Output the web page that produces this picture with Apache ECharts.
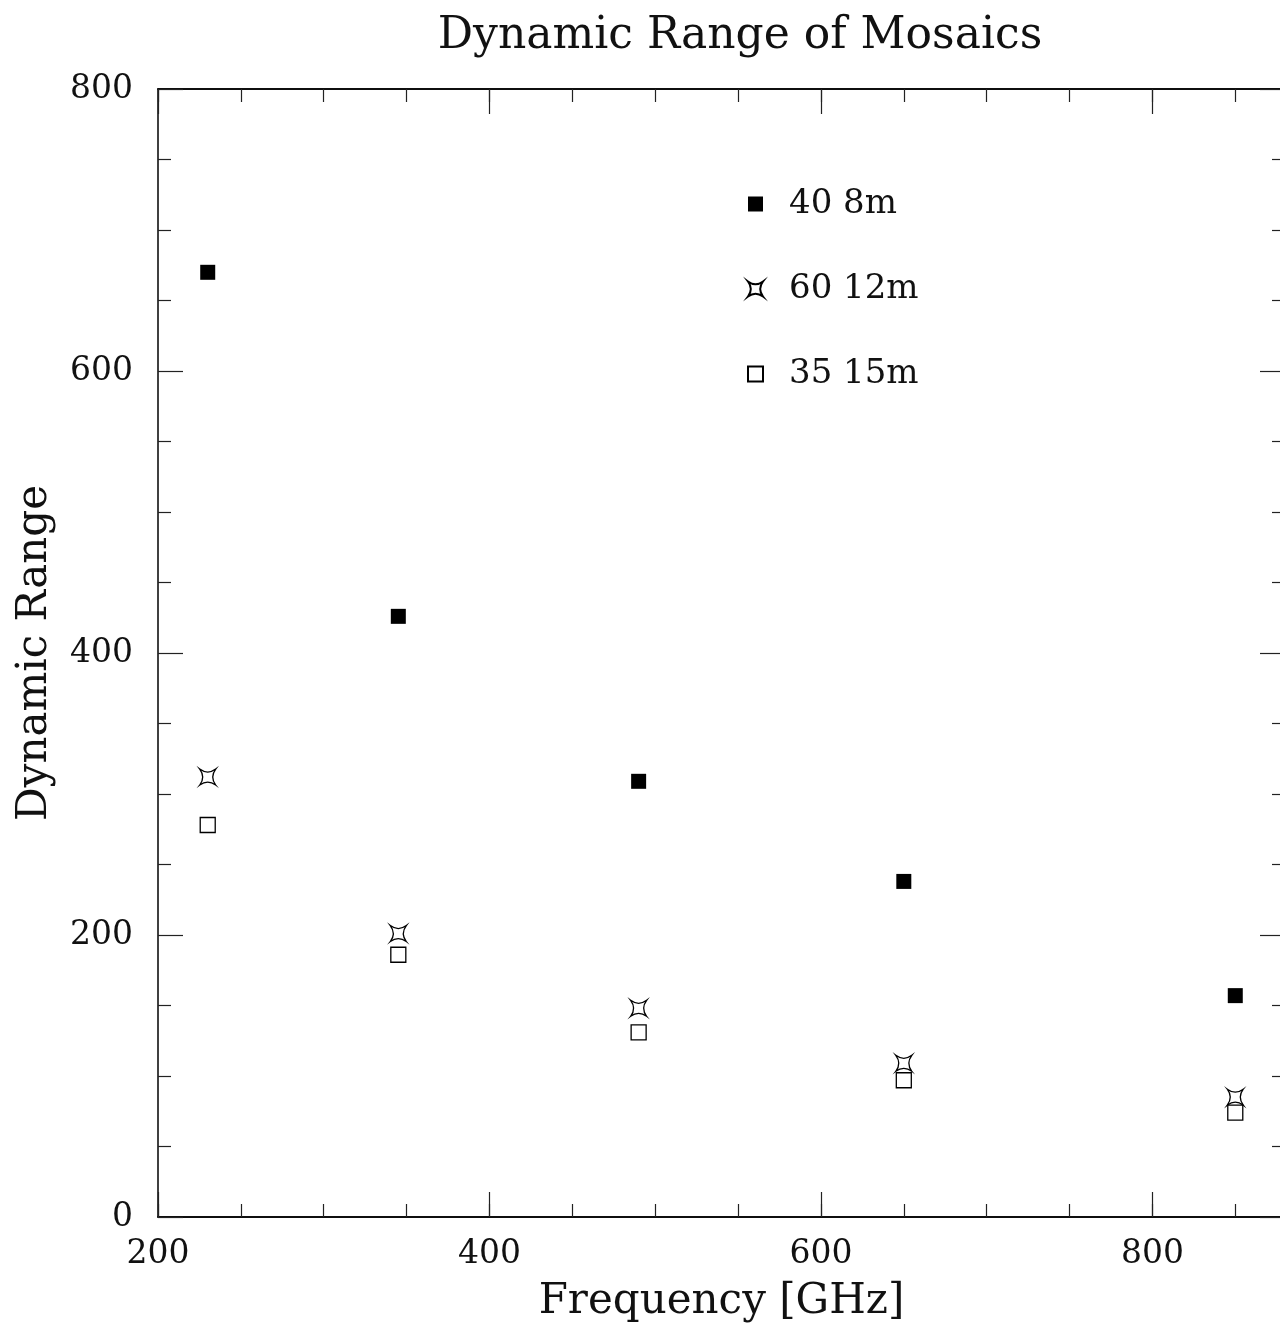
<!DOCTYPE html>
<html><head><meta charset="utf-8">
<script src="https://cdn.jsdelivr.net/npm/echarts@6/dist/echarts.min.js"></script>
<style>html,body{margin:0;padding:0;background:#fff}#c{width:1280px;height:1326px}</style>
</head><body><div id="c"></div>
<script>
// ---- data ----
const frequencies = [230, 345, 490, 650, 850];
const dr40x8m  = [670, 426, 309, 238, 157];
const dr60x12m = [312, 201, 148, 109, 85];
const dr35x15m = [278, 186, 131, 97, 74];
const seriesNames = ['40 8m', '60 12m', '35 15m'];
const titleText = 'Dynamic Range of Mosaics';
const xName = 'Frequency [GHz]';
const yName = 'Dynamic Range';

const FONT = 'DejaVu Serif';
const STAR = 'path://M-1,-1 Q0,-0.25 1,-1 Q0.25,0 1,1 Q0,0.25 -1,1 Q-0.25,0 -1,-1 Z';
const pairs = ys => frequencies.map((f, i) => [f, ys[i]]);

const axLine = {show: true, onZero: false, lineStyle: {color: '#000', width: 1.5}};
function xAx(pos, interval, len, labels) {
  return {
    type: 'value', position: pos, min: 200, max: 880, interval: interval,
    axisLine: axLine,
    axisTick: {show: true, inside: true, length: len, lineStyle: {color: '#222', width: 1.2}},
    splitLine: {show: false},
    axisLabel: labels ? {show: true, margin: 21, fontSize: 33, fontFamily: FONT, color: '#111',
      formatter: v => (v % 200 === 0 ? String(v) : '')} : {show: false},
    name: labels ? xName : '', nameLocation: 'middle', nameGap: 64,
    nameTextStyle: {fontSize: 42, fontFamily: FONT, color: '#111'}
  };
}
function yAx(pos, labels) {
  return {
    type: 'value', position: pos, min: 0, max: 800, interval: 200,
    axisLine: axLine,
    axisTick: {show: true, inside: true, length: 25, lineStyle: {color: '#222', width: 1.2}},
    minorTick: {show: true, splitNumber: 4, length: 13, lineStyle: {color: '#222', width: 1.2}},
    splitLine: {show: false},
    axisLabel: labels ? {show: true, margin: 25, fontSize: 33, fontFamily: FONT, color: '#111'} : {show: false},
    name: labels ? yName : '', nameLocation: 'middle', nameGap: 102, nameRotate: 90,
    nameTextStyle: {fontSize: 42, fontFamily: FONT, color: '#111'}
  };
}

const chart = echarts.init(document.getElementById('c'), null, {renderer: 'canvas'});
chart.setOption({
  backgroundColor: '#fff',
  animation: false,
  title: {text: titleText, left: 735, textAlign: 'center', top: 10,
    textStyle: {fontSize: 44, fontWeight: 'normal', fontFamily: FONT, color: '#111'}},
  legend: {
    orient: 'vertical', left: 747, top: 184, padding: 0, itemWidth: 15, itemHeight: 15, itemGap: 45,
    data: seriesNames,
    textStyle: {fontSize: 34, fontFamily: FONT, color: '#111', lineHeight: 40, padding: [0, 0, 0, 21]}
  },
  grid: {left: 158, top: 89, width: 1127, height: 1128, containLabel: false, outerBoundsMode: 'none'},
  xAxis: [xAx('bottom', 200, 25, true), xAx('bottom', 50, 13, false),
          xAx('top', 200, 25, false), xAx('top', 50, 13, false)],
  yAxis: [yAx('left', true), yAx('right', false)],
  series: [
    {name: seriesNames[0], type: 'scatter', data: pairs(dr40x8m), symbol: 'rect', symbolSize: 15,
      itemStyle: {color: '#000', borderColor: '#000', borderWidth: 0, opacity: 1}},
    {name: seriesNames[1], type: 'scatter', data: pairs(dr60x12m), symbol: STAR, symbolSize: 16,
      itemStyle: {color: '#fff', borderColor: '#000', borderWidth: 1.3, opacity: 1}},
    {name: seriesNames[2], type: 'scatter', data: pairs(dr35x15m), symbol: 'rect', symbolSize: 15,
      itemStyle: {color: '#fff', borderColor: '#000', borderWidth: 1.3, opacity: 1}}
  ]
});
</script></body></html>
